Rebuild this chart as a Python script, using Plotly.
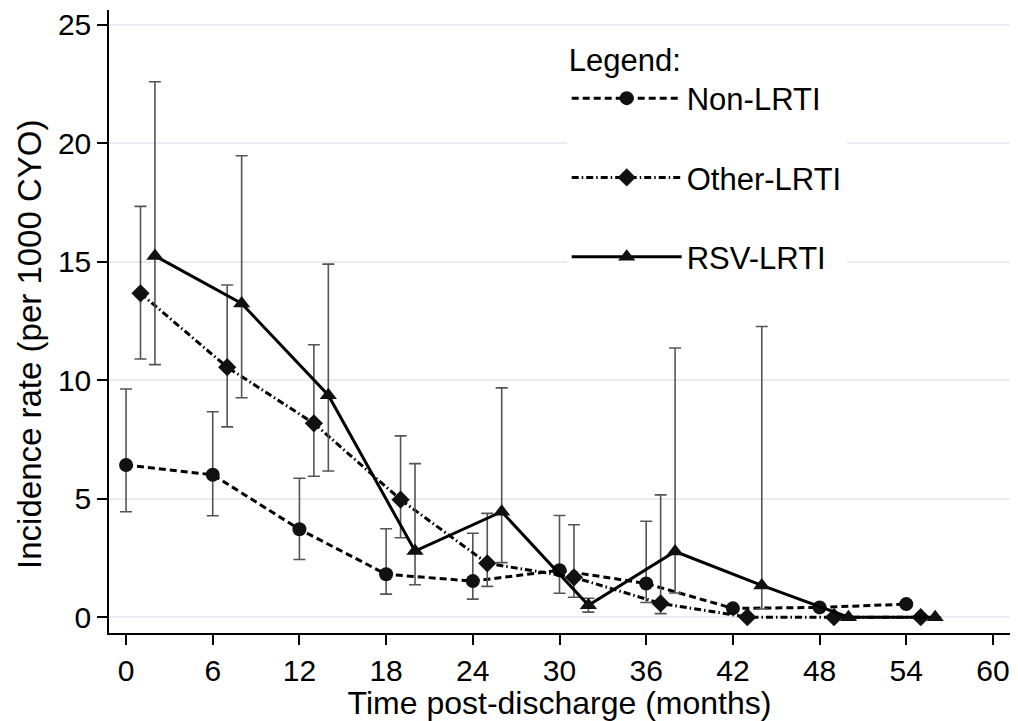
import plotly.graph_objects as go

# ---- data ----
months_non = [0, 6, 12, 18, 24, 30, 36, 42, 48, 54]
rate_non = [6.42, 6.01, 3.71, 1.81, 1.52, 1.98, 1.42, 0.37, 0.41, 0.55]
lo_non = [4.45, 4.28, 2.43, 0.97, 0.76, 1.01, 0.62, None, None, None]
hi_non = [9.63, 8.67, 5.86, 3.73, 3.54, 4.29, 4.05, None, None, None]

months_oth = [1, 7, 13, 19, 25, 31, 37, 43, 49, 55]
rate_oth = [13.67, 10.55, 8.18, 4.96, 2.27, 1.68, 0.58, 0, 0, 0]
lo_oth = [10.9, 8.03, 5.95, 3.35, 1.30, 0.84, 0.15, None, None, None]
hi_oth = [17.34, 14.02, 11.5, 7.65, 4.38, 3.90, 5.16, None, None, None]

months_rsv = [2, 8, 14, 20, 26, 32, 38, 44, 50, 56]
rate_rsv = [15.25, 13.24, 9.37, 2.79, 4.45, 0.50, 2.77, 1.34, 0, 0]
lo_rsv = [10.66, 9.26, 6.17, 1.37, 2.30, 0.21, 1.02, 0.34, None, None]
hi_rsv = [22.6, 19.48, 14.9, 6.48, 9.68, 0.80, 11.36, 12.27, None, None]

x_ticks = [0, 6, 12, 18, 24, 30, 36, 42, 48, 54, 60]
y_ticks = [0, 5, 10, 15, 20, 25]

FONT = "Liberation Sans, Arial, Helvetica, sans-serif"


def errs(rate, lo, hi):
    plus = [None if h is None else h - r for r, h in zip(rate, hi)]
    minus = [None if l is None else r - l for r, l in zip(rate, lo)]
    return plus, minus


fig = go.Figure()

series = [
    ("Non-LRTI", months_non, rate_non, lo_non, hi_non, "circle", 14, "7px,4px"),
    ("Other-LRTI", months_oth, rate_oth, lo_oth, hi_oth, "diamond", 14, "7px,3px,1.5px,3px"),
    ("RSV-LRTI", months_rsv, rate_rsv, lo_rsv, hi_rsv, "triangle-up", 15, "solid"),
]

for i, (name, xs, ys, lo, hi, sym, size, dash) in enumerate(series):
    plus, minus = errs(ys, lo, hi)
    fig.add_trace(go.Scatter(
        x=xs, y=ys, name=name, legendgroup=name,
        mode="lines+markers",
        line=dict(color="black", width=3, dash=dash),
        marker=dict(symbol=sym, size=size, color="#111111"),
        error_y=dict(type="data", symmetric=False, array=plus, arrayminus=minus,
                     color="#555555", thickness=1.6, width=6),
        cliponaxis=False,
    ))

fig.add_annotation(
    text="Incidence rate (per 1000 CYO)", textangle=-90,
    xref="paper", yref="paper", x=-0.0877, y=0.464,
    xanchor="center", yanchor="middle", showarrow=False,
    font=dict(size=33, family=FONT, color="black"),
)

fig.update_layout(
    width=1010, height=713,
    margin=dict(l=101, r=8, t=0, b=88),
    paper_bgcolor="white", plot_bgcolor="white",
    font=dict(family=FONT, color="black", size=30),
    showlegend=True,
    legend=dict(
        title=dict(text="Legend:", font=dict(size=31, family=FONT)),
        font=dict(size=31, family=FONT),
        x=0.508, y=0.966, xanchor="left", yanchor="top",
        bgcolor="white", borderwidth=0,
        tracegroupgap=36, itemwidth=110,
    ),
    xaxis=dict(
        range=[-1.18, 61.18], tickvals=x_ticks, ticktext=[str(v) for v in x_ticks],
        showgrid=False, zeroline=False,
        showline=True, linecolor="black", linewidth=1.5,
        ticks="outside", ticklen=10, tickwidth=1.5, tickcolor="black",
        tickfont=dict(size=30), ticklabeloverflow="allow",
        title=dict(text="Time post-discharge (months)", font=dict(size=32), standoff=2),
    ),
    yaxis=dict(
        range=[-0.67, 25.63], tickvals=y_ticks, ticktext=[str(v) for v in y_ticks],
        showgrid=True, gridcolor="#e6eef1", gridwidth=1.5, zeroline=False,
        showline=True, linecolor="black", linewidth=1.5,
        ticks="outside", ticklen=10, tickwidth=1.5, tickcolor="black",
        tickfont=dict(size=30), ticklabeloverflow="allow",
    ),
)

fig.write_html("out.html")
